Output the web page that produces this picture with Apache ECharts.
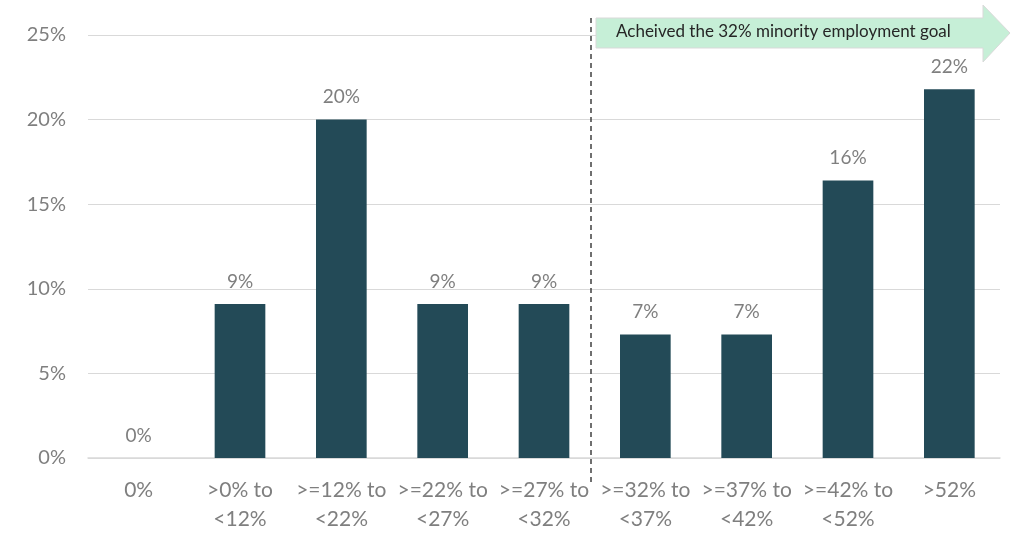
<!DOCTYPE html>
<html>
<head>
<meta charset="utf-8">
<script src="https://cdn.jsdelivr.net/npm/echarts@6/dist/echarts.min.js"></script>
<style>
  html, body { margin: 0; padding: 0; background: #fff; }
  #chart { width: 1016px; height: 547px; }
</style>
</head>
<body>
<div id="chart"></div>
<script>
// bins of minority employment share
const categories = ['0%', '>0% to\n<12%', '>=12% to\n<22%', '>=22% to\n<27%', '>=27% to\n<32%',
  '>=32% to\n<37%', '>=37% to\n<42%', '>=42% to\n<52%', '>52%'];
// share of firms in each bin (percent)
const shares = [0, 9.1, 20.0, 9.1, 9.1, 7.3, 7.3, 16.4, 21.8];
const yTicks = [0, 5, 10, 15, 20, 25];
const goalText = 'Acheived the 32% minority employment goal';

const chart = echarts.init(document.getElementById('chart'));
const font = 'Lato, "Noto Sans", sans-serif';

const option = {
  animation: false,
  grid: { left: 88, right: 16, top: 35, bottom: 89 },
  xAxis: {
    type: 'category',
    data: categories,
    axisTick: { show: false },
    axisLine: { lineStyle: { color: '#d9d9d9', width: 1.5 } },
    axisLabel: {
      interval: 0,
      color: '#7f7f7f',
      fontSize: 21,
      fontFamily: font,
      lineHeight: 29,
      margin: 18
    }
  },
  yAxis: {
    type: 'value',
    min: yTicks[0],
    max: yTicks[yTicks.length - 1],
    interval: 5,
    axisLabel: {
      color: '#7f7f7f',
      fontSize: 20,
      fontFamily: font,
      margin: 22,
      formatter: v => v + '%'
    },
    splitLine: { lineStyle: { color: '#d9d9d9', width: 1 } }
  },
  series: [{
    type: 'bar',
    data: shares,
    barWidth: '50%',
    itemStyle: { color: '#234a57' },
    label: {
      show: true,
      position: 'top',
      distance: 13,
      color: '#7f7f7f',
      fontSize: 19,
      fontFamily: font,
      formatter: p => Math.round(p.value) + '%'
    }
  }],
  graphic: [
    {
      type: 'line',
      shape: { x1: 591, y1: 18, x2: 591, y2: 484 },
      style: { stroke: '#404040', lineWidth: 1.5, lineDash: [5, 4] },
      z: 10
    },
    {
      type: 'polygon',
      shape: {
        points: [[596, 18], [983, 18], [983, 5], [1010, 33], [983, 62], [983, 48], [596, 48]]
      },
      style: { fill: '#c6efd7', stroke: '#d9d9d9', lineWidth: 1 },
      z: 10
    },
    {
      type: 'text',
      left: 616,
      top: 23,
      style: { text: goalText, fill: '#262626', fontSize: 17, fontFamily: font },
      z: 11
    }
  ]
};

chart.setOption(option);
</script>
</body>
</html>
